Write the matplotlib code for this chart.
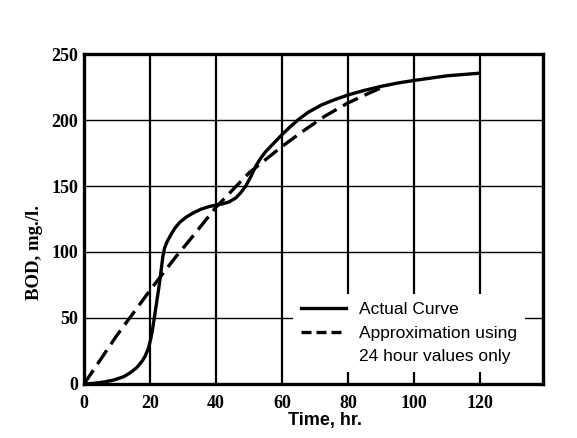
import matplotlib
matplotlib.use('Agg')
import matplotlib.pyplot as plt
from matplotlib.lines import Line2D

# actual BOD curve
actual_t = [0, 3, 6, 9, 12, 14, 16, 17.5, 18.5, 19.5, 20.2, 20.8, 21.4, 22, 22.6,
            23.1, 23.5, 23.9, 24.4, 25.2, 26.3, 27.5, 29, 31, 33, 35.5, 38, 40,
            42, 44, 46, 47.5, 49, 50.5, 52, 53.5, 55, 57.5, 60, 62.5, 65, 68, 72,
            76, 80, 85, 90, 95, 100, 110, 120]
actual_bod = [0, 0.5, 1.5, 3, 5.5, 8.5, 12.5, 17, 21, 27, 34, 42, 52, 62, 72,
              81, 89, 97, 103, 108, 113, 118, 122.5, 126.5, 129.5, 132.5, 134.5, 135.5,
              136.5, 138, 141, 145, 150, 157, 165, 171, 176, 182.5, 189, 195, 200.5,
              206, 211.5, 215.5, 219, 222.5, 225.5, 228, 230, 233.5, 235.5]

# approximation from 24 hour values only
approx_t = [0, 10, 20, 24, 28, 32, 40, 50, 55, 60, 66, 73, 80, 86, 92]
approx_bod = [0, 37, 71, 84, 97, 109, 134, 160, 170, 180, 191, 203, 213, 220, 226.5]

x_ticks = [0, 20, 40, 60, 80, 100, 120]
y_ticks = [0, 50, 100, 150, 200, 250]

legend_labels = ["Actual Curve", "Approximation using", "24 hour values only"]

sans = ['Liberation Sans Narrow', 'Liberation Sans', 'DejaVu Sans']
serif = ['Liberation Serif', 'DejaVu Serif']

fig = plt.figure(figsize=(5.77, 4.38), dpi=100)
ax = fig.add_axes([0.1456, 0.1233, 0.7954, 0.7534])

ax.set_xlim(0, 139)
ax.set_ylim(0, 250)

# grid: vertical lines heavier than horizontal ones
for t in x_ticks[1:]:
    ax.axvline(t, color='black', lw=1.6, zorder=1)
for v in y_ticks[1:-1]:
    ax.axhline(v, color='black', lw=1.0, zorder=1)

ax.plot(actual_t, actual_bod, color='black', lw=2.4, zorder=3,
        solid_capstyle='butt', solid_joinstyle='round')
ax.plot(approx_t, approx_bod, color='black', lw=2.4, zorder=3,
        linestyle=(0, (5, 2.2)), dash_capstyle='butt')

for side in ax.spines.values():
    side.set_linewidth(2.4)

ax.set_xticks(x_ticks)
ax.set_yticks(y_ticks)
ax.tick_params(length=0, labelsize=13)
ax.tick_params(axis='x', pad=8)
ax.tick_params(axis='y', pad=4)
for lab in ax.get_xticklabels() + ax.get_yticklabels():
    lab.set_family(serif)
    lab.set_fontweight('bold')

ax.set_xlabel("Time, hr.", family=sans, fontsize=13, fontweight='bold')
ax.xaxis.set_label_coords(0.525, -0.085)
ax.set_ylabel("BOD, mg./l.", family=serif, fontsize=13.5, fontweight='bold')
ax.yaxis.set_label_coords(-0.09, 0.397)

handles = [
    Line2D([], [], color='black', lw=2.4),
    Line2D([], [], color='black', lw=2.4, linestyle=(0, (3, 1.5))),
    Line2D([], [], color='none'),
]
leg = ax.legend(handles, legend_labels, loc='upper left',
                bbox_to_anchor=(0.455, 0.272), frameon=True, fancybox=False,
                framealpha=1, facecolor='white', edgecolor='none',
                prop={'family': sans, 'size': 12.5}, handlelength=2.6,
                handletextpad=0.75, labelspacing=0.48, borderpad=0.45,
                borderaxespad=0)
leg.set_zorder(2)

fig.savefig('out.png', dpi=100, facecolor='white')
